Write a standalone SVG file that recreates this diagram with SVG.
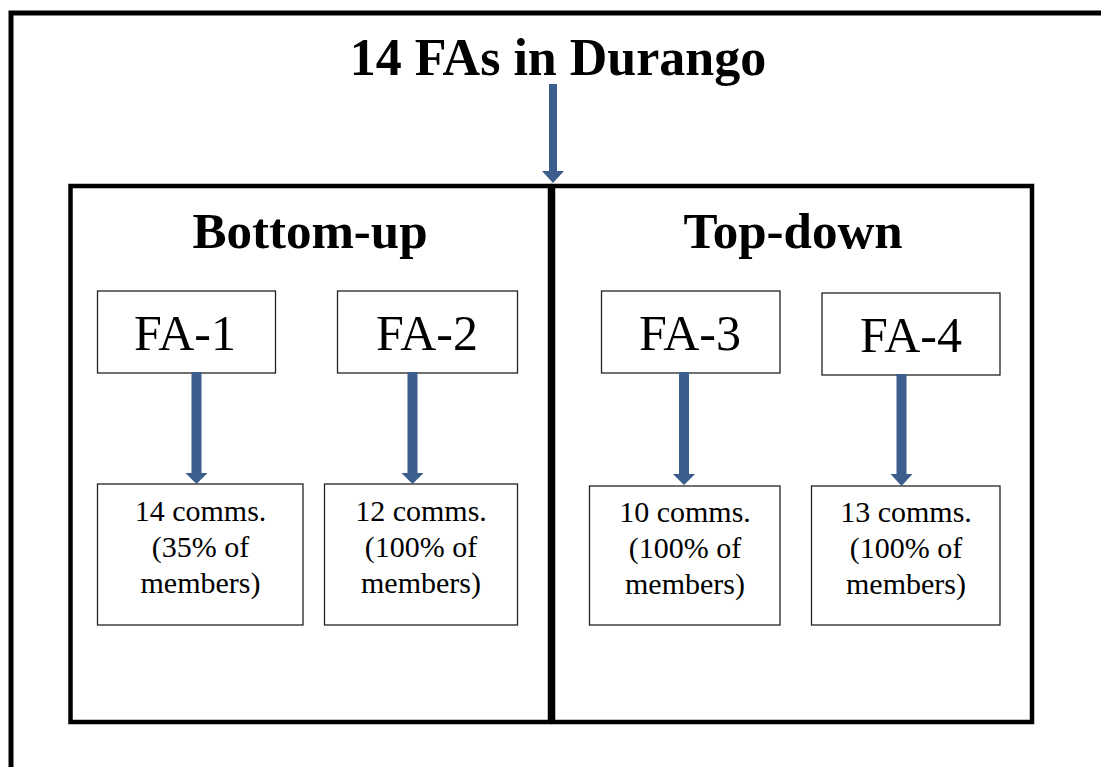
<svg xmlns="http://www.w3.org/2000/svg" width="1101" height="767" viewBox="0 0 1101 767">
<defs>
<style>
.frame{fill:none;stroke:#000;stroke-width:5}
.panel{fill:none;stroke:#000;stroke-width:4.5}
.box{fill:#fff;stroke:#222;stroke-width:1.3}
.arrow{fill:#3B5E8C}
.title{font-family:"Liberation Serif","Times New Roman",serif;font-weight:bold;fill:#000;text-anchor:middle}
.fa{font-family:"Liberation Serif","Times New Roman",serif;font-size:50px;fill:#000;text-anchor:middle}
.cm{font-family:"Liberation Serif","Times New Roman",serif;font-size:30px;fill:#000;text-anchor:middle}
</style>
</defs>
<rect width="1101" height="767" fill="#fff"/>
<rect class="frame" x="11" y="13" width="1200" height="800"/>
<text class="title" x="558" y="75" font-size="52">14 FAs in Durango</text>
<g id="bottom-up">
<rect class="panel" x="70.5" y="186" width="479.5" height="536"/>
<text class="title" x="310" y="248" font-size="51">Bottom-up</text>
</g>
<g id="top-down">
<rect class="panel" x="553" y="186" width="479" height="536"/>
<text class="title" x="793" y="248" font-size="51">Top-down</text>
</g>
<g id="fa1"><rect class="box" x="97.5" y="291" width="178" height="82"/><text class="fa" x="185" y="350">FA-1</text></g>
<g id="fa2"><rect class="box" x="337.5" y="291" width="180" height="82"/><text class="fa" x="427" y="350">FA-2</text></g>
<g id="fa3"><rect class="box" x="601.5" y="291" width="178.5" height="82"/><text class="fa" x="690" y="350">FA-3</text></g>
<g id="fa4"><rect class="box" x="822" y="293" width="178" height="82"/><text class="fa" x="911" y="352">FA-4</text></g>
<g id="c1"><rect class="box" x="97.5" y="484" width="205.5" height="141"/><text class="cm" x="200.5" y="521">14 comms.</text><text class="cm" x="200.5" y="557">(35% of</text><text class="cm" x="200.5" y="593">members)</text></g>
<g id="c2"><rect class="box" x="324.5" y="484" width="193" height="141"/><text class="cm" x="421" y="521">12 comms.</text><text class="cm" x="421" y="557">(100% of</text><text class="cm" x="421" y="593">members)</text></g>
<g id="c3"><rect class="box" x="589.5" y="486" width="190.5" height="139"/><text class="cm" x="685" y="522">10 comms.</text><text class="cm" x="685" y="558">(100% of</text><text class="cm" x="685" y="594">members)</text></g>
<g id="c4"><rect class="box" x="811.5" y="486" width="188.5" height="139"/><text class="cm" x="906" y="522">13 comms.</text><text class="cm" x="906" y="558">(100% of</text><text class="cm" x="906" y="594">members)</text></g>
<g id="connectors">
<path class="arrow" d="M549 84 H557 V171 H564 L553 183 L542 171 H549 Z"/>
<path class="arrow" d="M191.5 372 H201.5 V473 H207.5 L196.5 484 L185.5 473 H191.5 Z"/>
<path class="arrow" d="M407.5 372 H417.5 V473 H423.5 L412.5 484 L401.5 473 H407.5 Z"/>
<path class="arrow" d="M679 372 H689 V474 H695 L684 485 L673 474 H679 Z"/>
<path class="arrow" d="M896.5 374 H906.5 V474 H912.5 L901.5 486 L890.5 474 H896.5 Z"/>
</g>
</svg>
